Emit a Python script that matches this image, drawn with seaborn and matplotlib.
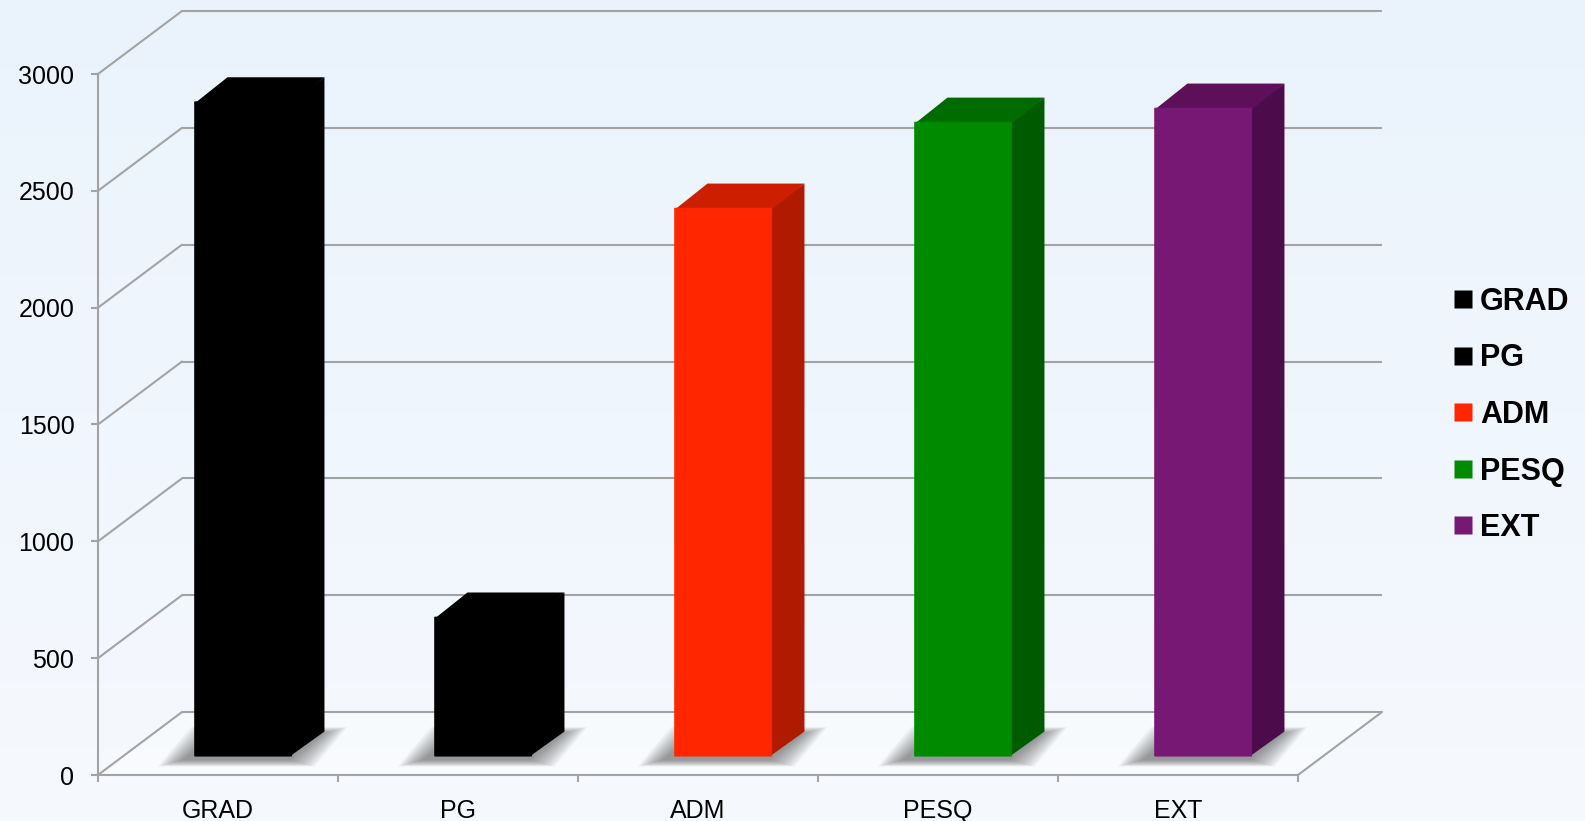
import numpy as np
import seaborn as sns
import matplotlib.pyplot as plt
from matplotlib.patches import Polygon
from matplotlib.lines import Line2D

categories = ['GRAD', 'PG', 'ADM', 'PESQ', 'EXT']
values = [2800, 595, 2345, 2713, 2773]
front_colors = ['#000000', '#000000', '#ff2600', '#008a00', '#771875']
top_colors = ['#000000', '#000000', '#cc1f00', '#006c00', '#5d1059']
side_colors = ['#000000', '#000000', '#b01a00', '#005a00', '#4c0b4a']
yticks = [0, 500, 1000, 1500, 2000, 2500, 3000]

sns.set_style('white')
plt.rcParams['font.family'] = ['Liberation Sans', 'DejaVu Sans']
plt.rcParams['text.color'] = 'black'

W, H = 1585, 821
x0_px, cat_px, y0_px = 98, 240.0, 775
unit_px = 701 / 3000.0
px_x = 1 / cat_px
px_y = 1 / unit_px

# oblique depth of the whole box, and of one bar
DX, DY = 84 * px_x, 63 * px_y
front_f, depth_f = 0.30, 0.39
bar_w = 97 * px_x
grid_c = '#a3a3a3'

fig = plt.figure(figsize=(W / 100, H / 100), dpi=100)

bg = fig.add_axes([0, 0, 1, 1], zorder=-1)
grad = np.linspace(0, 1, 256).reshape(-1, 1)
bg.imshow(grad, aspect='auto', extent=[0, 1, 0, 1],
          cmap=sns.blend_palette(['#eaf3fc', '#f6f9fe'], as_cmap=True))
bg.axis('off')

ax = fig.add_axes([0, 0, 1, 1])
ax.set_facecolor('none')

sns.barplot(x=categories, y=values, hue=categories, palette=front_colors,
            width=bar_w, saturation=1, legend=False, errorbar=None, ax=ax, zorder=3)
bars = list(ax.patches)

ax.set_xlim(-0.5 - x0_px / cat_px, -0.5 + (W - x0_px) / cat_px)
ax.set_ylim(-(H - y0_px) / unit_px, y0_px / unit_px)

# floor and walls
ax.add_patch(Polygon([(-0.5, 0), (4.5, 0), (4.5 + DX, DY), (-0.5 + DX, DY)],
                     closed=True, fc='white', ec='none', alpha=0.3, zorder=0.3))
for v in yticks:
    ax.plot([-0.5 + DX, 4.5 + DX], [v + DY, v + DY], color=grid_c, lw=1.5, zorder=0.5,
            solid_capstyle='butt')
    ax.plot([-0.5, -0.5 + DX], [v, v + DY], color=grid_c, lw=1.5, zorder=0.5)
ax.plot([4.5, 4.5 + DX], [0, DY], color=grid_c, lw=1.5, zorder=0.5)

# bars: shift front faces into the box, add shadow, top and side
fx, fy = front_f * DX, front_f * DY
bdx, bdy = depth_f * DX, depth_f * DY
ov_x, ov_y = 1.5 * px_x, 1.5 * px_y
for i, p in enumerate(bars):
    xl = p.get_x() + fx
    w = p.get_width()
    h = p.get_height()
    p.set_x(xl)
    p.set_y(fy)
    p.set_edgecolor(front_colors[i])
    p.set_linewidth(0.6)
    p.set_snap(False)
    p.set_zorder(3.2)
    yb, yt = fy, fy + h
    # soft shadow on the floor
    for k in range(10):
        ex = (6 + 2.6 * k) * px_x
        ey = (1 + 0.7 * k) * px_y
        sx = -7 * px_x
        sy = -3 * px_y
        ax.add_patch(Polygon([(xl - ex + sx, yb - ey + sy), (xl + w + ex + sx, yb - ey + sy),
                              (xl + w + bdx + ex + sx, yb + bdy + ey + sy),
                              (xl + bdx - ex + sx, yb + bdy + ey + sy)],
                             closed=True, fc='#444444', ec='none', alpha=0.07, zorder=1))
    ax.add_patch(Polygon([(xl + w - ov_x, yb), (xl + w + bdx, yb + bdy),
                          (xl + w + bdx, yt + bdy), (xl + w - ov_x, yt)],
                         closed=True, fc=side_colors[i], ec='none', zorder=3))
    ax.add_patch(Polygon([(xl, yt - ov_y), (xl + w, yt - ov_y), (xl + w + bdx, yt + bdy),
                          (xl + bdx, yt + bdy)],
                         closed=True, fc=top_colors[i], ec='none', zorder=3))

# front axes
for s in ['top', 'right']:
    ax.spines[s].set_visible(False)
ax.spines['left'].set_position(('data', -0.5))
ax.spines['bottom'].set_position(('data', 0))
ax.spines['left'].set_bounds(0, 3000)
ax.spines['bottom'].set_bounds(-0.5, 4.5)
for s in ['left', 'bottom']:
    ax.spines[s].set_color(grid_c)
    ax.spines[s].set_linewidth(1.5)
    ax.spines[s].set_zorder(0.6)

ax.set_yticks(yticks)
ax.set_yticklabels([str(v) for v in yticks])
ax.set_xticks(np.arange(-0.5, 5, 1.0))
ax.set_xticklabels([''] * 6)
ax.set_xticks(np.arange(len(categories)), minor=True)
ax.set_xticklabels(categories, minor=True)
ax.tick_params(axis='y', which='major', length=5, width=1.5, color=grid_c,
               labelsize=18, pad=12, left=True, labelcolor='black')
ax.tick_params(axis='x', which='major', length=5, width=1.5, color=grid_c, bottom=True)
ax.tick_params(axis='x', which='minor', length=0, labelsize=18, pad=17, labelcolor='black')
ax.set_xlabel('')
ax.set_ylabel('')

handles = [Line2D([0], [0], marker='s', linestyle='none', markersize=12.5,
                  markerfacecolor=c, markeredgecolor='none') for c in front_colors]
ax.legend(handles, categories, loc='center left', bbox_to_anchor=(1452 / W, 1 - 415 / H),
          bbox_transform=fig.transFigure, frameon=False, labelcolor='black',
          prop=dict(family='Liberation Sans', weight='bold', size=22),
          handlelength=0.7, handletextpad=0.22, labelspacing=0.87, borderpad=0,
          borderaxespad=0)

fig.savefig('out.png', dpi=100)
